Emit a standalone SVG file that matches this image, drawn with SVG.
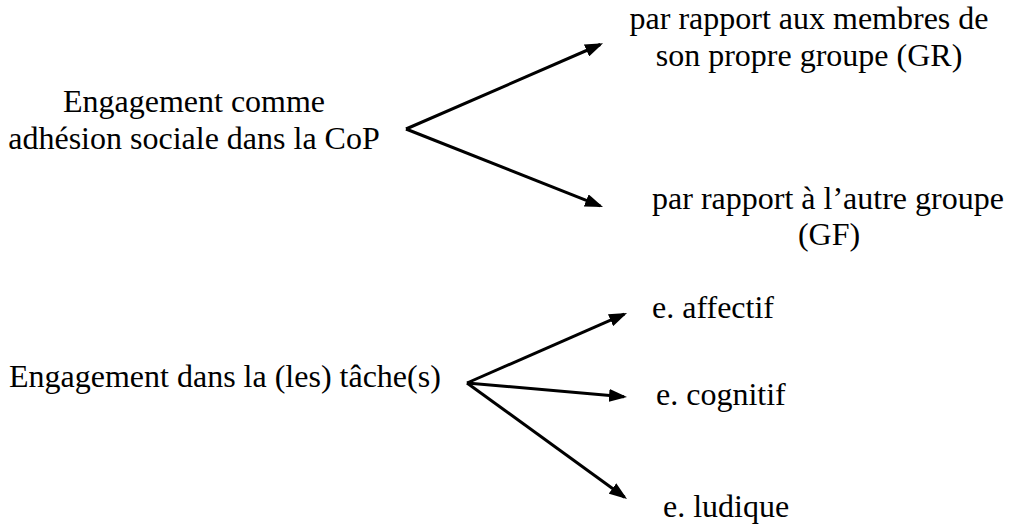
<svg xmlns="http://www.w3.org/2000/svg" width="1010" height="525" viewBox="0 0 1010 525">
<style>
text{font-family:'Liberation Serif','Times New Roman',Times,serif;font-size:32px;fill:#000}
.c{text-anchor:middle}
.conn line{stroke:#000;stroke-width:3;fill:none;marker-end:url(#ah)}
</style>
<defs>
<marker id="ah" markerUnits="userSpaceOnUse" markerWidth="18" markerHeight="13" refX="15" refY="6.5" orient="auto" viewBox="0 0 18 13">
<path d="M0,0 L18,6.5 L0,13 z" fill="#000"/>
</marker>
</defs>
<rect width="1010" height="525" fill="#fff"/>
<g id="n-social"><text class="c" x="194" y="112">Engagement comme</text><text class="c" x="194" y="149">adhésion sociale dans la CoP</text></g>
<g id="n-gr"><text class="c" x="809" y="29">par rapport aux membres de</text><text class="c" x="809" y="66">son propre groupe (GR)</text></g>
<g id="n-gf"><text class="c" x="828" y="209">par rapport à l’autre groupe</text><text class="c" x="829" y="245">(GF)</text></g>
<g id="n-tache"><text x="9" y="387">Engagement dans la (les) tâche(s)</text></g>
<g id="n-affectif"><text x="652" y="318">e. affectif</text></g>
<g id="n-cognitif"><text x="656" y="405">e. cognitif</text></g>
<g id="n-ludique"><text x="663" y="517">e. ludique</text></g>
<g class="conn" id="connectors">
<line x1="406" y1="129" x2="600.3" y2="44.5"/>
<line x1="406" y1="129" x2="600.2" y2="205.9"/>
<line x1="467" y1="383" x2="624.3" y2="314.2"/>
<line x1="467" y1="383" x2="624" y2="396.7"/>
<line x1="467" y1="383" x2="624.6" y2="497.2"/>
</g>
</svg>
